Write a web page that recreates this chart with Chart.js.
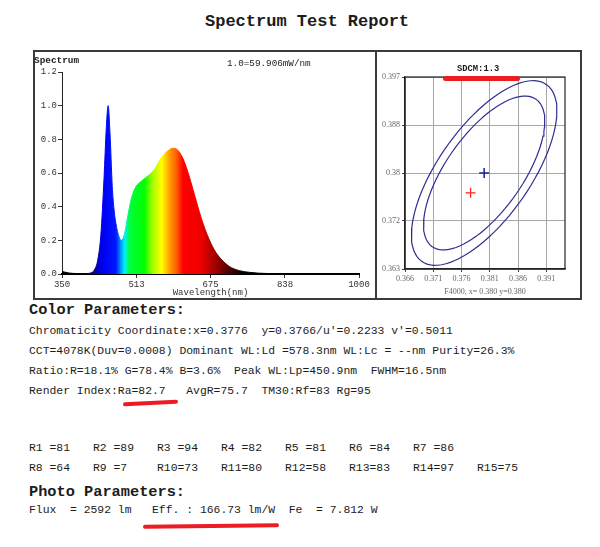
<!DOCTYPE html>
<html>
<head>
<meta charset="utf-8">
<title>Spectrum Test Report</title>
<script src="https://cdn.jsdelivr.net/npm/chart.js@4.4.0/dist/chart.umd.min.js"></script>
<style>
  html, body { margin: 0; padding: 0; background: #fff; }
  #page {
    position: relative; width: 600px; height: 547px; overflow: hidden;
    font-family: "Liberation Mono", "Courier New", monospace; color: #1c1c1c;
  }
  .t { position: absolute; white-space: pre; line-height: 1; }
  .b { font-weight: bold; }
  .frame {
    position: absolute; left: 33px; top: 50px; width: 549px; height: 250px;
    box-sizing: border-box; border: 2px solid #3a3a3a;
  }
  .divider { position: absolute; left: 375px; top: 50px; width: 2px; height: 250px; background: #3a3a3a; }
  canvas { position: absolute; }
  .mark { position: absolute; background: #ec1c24; border-radius: 3px; z-index: 5; }
</style>
</head>
<body>
<div id="page">
  <div class="frame"></div>
  <div class="divider"></div>
  <canvas id="spectrumChart" width="340" height="246" style="left:35px;top:52px;width:340px;height:246px"></canvas>
  <canvas id="cieChart" width="203" height="246" style="left:377px;top:52px;width:203px;height:246px"></canvas>
</div>

<script>
// ---- spectrum (relative power, 1.0 = 59.906 mW/nm) ----
const wavelengths = [350, 355, 365, 380, 400, 410, 416, 422, 428, 435, 442, 447, 451, 455, 460,
  464, 468, 475, 480, 486, 493, 502, 512, 523, 537, 552, 567, 581, 592, 603,
  614, 625, 640, 655, 672, 687, 702, 716, 738, 760, 780, 820, 900, 1000];
const relativePower = [0.015, 0.012, 0.006, 0.003, 0.002, 0.004, 0.01, 0.03, 0.08, 0.23, 0.57, 0.87, 1.0, 0.84, 0.52,
  0.38, 0.30, 0.22, 0.20, 0.23, 0.33, 0.45, 0.52, 0.55, 0.58, 0.62, 0.69, 0.73, 0.747, 0.737,
  0.69, 0.61, 0.47, 0.33, 0.206, 0.127, 0.078, 0.045, 0.02, 0.01, 0.005, 0.002, 0.001, 0.0];
const wavelengthTicks = [350, 513, 675, 838, 1000];
const powerTicks = [0, 0.2, 0.4, 0.6, 0.8, 1.0, 1.2];

// rainbow fill colours by wavelength
const rainbowNm = [350, 400, 415, 430, 440, 468, 478, 487, 497, 530, 548, 568, 585, 600, 615, 655, 685, 715, 745, 1000];
const rainbowColors = ['#000000', '#0c0020', '#14006e', '#0000c8', '#0000f4', '#0018ff', '#0090ff', '#00f0ff',
  '#00ff40', '#00ff00', '#a0ff00', '#ffff00', '#ffa000', '#ff6000', '#ff0000', '#ee0000',
  '#a00000', '#500000', '#000000', '#000000'];

// ---- chromaticity (CIE 1931 x,y) ----
const cieXTicks = [0.366, 0.371, 0.376, 0.381, 0.386, 0.391];
const cieYTicks = [0.3635, 0.37175, 0.38, 0.38825, 0.3965];
const cieYTickLabels = ['0.363', '0.372', '0.38', '0.388', '0.397'];
const targetPoint = [0.380, 0.380];      // F4000
const measuredPoint = [0.3776, 0.3766];
const ellipseSteps = [5, 6];
const ellipseA = 0.00313;   // one-step MacAdam ellipse for F4000
const ellipseB = 0.00134;
const ellipseAngle = 53.72;

// ---- report text ----
const colorLines = [
  "Chromaticity Coordinate:x=0.3776  y=0.3766/u'=0.2233 v'=0.5011",
  "CCT=4078K(Duv=0.0008) Dominant WL:Ld =578.3nm WL:Lc = --nm Purity=26.3%",
  "Ratio:R=18.1% G=78.4% B=3.6%  Peak WL:Lp=450.9nm  FWHM=16.5nm",
  "Render Index:Ra=82.7   AvgR=75.7  TM30:Rf=83 Rg=95"
];
const criNames = ['R1', 'R2', 'R3', 'R4', 'R5', 'R6', 'R7', 'R8', 'R9', 'R10', 'R11', 'R12', 'R13', 'R14', 'R15'];
const criValues = [81, 89, 94, 82, 81, 84, 86, 64, 7, 73, 80, 58, 83, 97, 75];
const photoLine = "Flux  = 2592 lm   Eff. : 166.73 lm/W  Fe  = 7.812 W";

const page = document.getElementById('page');

function addText(str, left, centerY, size, bold) {
  const d = document.createElement('div');
  d.className = 't' + (bold ? ' b' : '');
  d.textContent = str;
  d.style.left = left + 'px';
  d.style.top = (centerY - size / 2) + 'px';
  d.style.fontSize = size + 'px';
  page.appendChild(d);
  return d;
}

function addMark(left, top, width, height, rotate) {
  const d = document.createElement('div');
  d.className = 'mark';
  d.style.left = left + 'px';
  d.style.top = top + 'px';
  d.style.width = width + 'px';
  d.style.height = height + 'px';
  d.style.transform = 'rotate(' + rotate + 'deg)';
  page.appendChild(d);
}

addText('Spectrum Test Report', 205, 21, 17, true);
addText('Spectrum', 34, 61, 9.4, true);
addText('1.0=59.906mW/nm', 227, 64, 9.3, false);
addText('SDCM:1.3', 457, 69, 8.8, true);

addText('Color Parameters:', 29, 311, 15.3, true);
colorLines.forEach((line, i) => addText(line, 29, 332 + i * 20, 11.4, false));

criNames.forEach((name, i) => {
  const row = i < 7 ? 0 : 1;
  const col = i < 7 ? i : i - 7;
  const label = (name + '   ').slice(0, 3) + '=' + criValues[i];
  addText(label, 29 + col * 64, 449 + row * 20, 11.4, false);
});

addText('Photo Parameters:', 29, 493, 15.3, true);
addText(photoLine, 29, 511, 11.4, false);

// hand drawn red marks
addMark(443, 76, 77, 4.5, 0);
addMark(123, 401, 55, 3.5, -3);
addMark(143, 524, 136, 3.5, -0.6);

// ---- spectrum chart ----
function rainbowFill(context) {
  const chart = context.chart;
  if (!chart.chartArea) return '#0000ff';
  const xs = chart.scales.x;
  const x0 = xs.getPixelForValue(350);
  const x1 = xs.getPixelForValue(1000);
  const g = chart.ctx.createLinearGradient(x0, 0, x1, 0);
  rainbowNm.forEach((nm, i) => g.addColorStop((nm - 350) / 650, rainbowColors[i]));
  return g;
}

const monoTick = { family: 'Liberation Mono', size: 9 };

new Chart(document.getElementById('spectrumChart'), {
  type: 'line',
  data: {
    datasets: [{
      data: wavelengths.map((nm, i) => ({ x: nm, y: relativePower[i] })),
      fill: 'origin',
      backgroundColor: rainbowFill,
      borderColor: rainbowFill,
      borderWidth: 1,
      pointRadius: 0,
      cubicInterpolationMode: 'monotone'
    }]
  },
  options: {
    responsive: false,
    animation: false,
    devicePixelRatio: 1,
    layout: { padding: { top: 20, right: 16, left: 0, bottom: 0 } },
    plugins: { legend: { display: false }, tooltip: { enabled: false } },
    scales: {
      x: {
        type: 'linear',
        min: 350,
        max: 1000,
        afterBuildTicks: (scale) => { scale.ticks = wavelengthTicks.map((v) => ({ value: v })); },
        afterFit: (scale) => { scale.height = 24; },
        grid: { drawOnChartArea: false, tickLength: 4, color: '#333' },
        border: { color: '#000', width: 2 },
        ticks: { font: monoTick, color: '#333', padding: 1, maxRotation: 0, autoSkip: false, callback: (v) => String(v) },
        title: {
          display: true,
          text: 'Wavelength(nm)',
          font: monoTick,
          color: '#333',
          padding: { top: 0, bottom: 0 }
        }
      },
      y: {
        min: 0,
        max: 1.2,
        afterBuildTicks: (scale) => { scale.ticks = powerTicks.map((v) => ({ value: v })); },
        afterFit: (scale) => { scale.width = 27; },
        grid: { drawOnChartArea: false, tickLength: 4, color: '#333' },
        border: { color: '#222', width: 1 },
        ticks: { font: monoTick, color: '#333', padding: 1, callback: (v) => Number(v).toFixed(1) }
      }
    }
  }
});

// ---- chromaticity chart ----
function ellipsePoints(steps) {
  const t = ellipseAngle * Math.PI / 180;
  const pts = [];
  for (let k = 0; k <= 90; k++) {
    const s = (k / 90) * Math.PI * 2;
    const ax = ellipseA * steps * Math.cos(s);
    const by = ellipseB * steps * Math.sin(s);
    pts.push({
      x: targetPoint[0] + ax * Math.cos(t) - by * Math.sin(t),
      y: targetPoint[1] + ax * Math.sin(t) + by * Math.cos(t)
    });
  }
  return pts;
}

const plotBorder = {
  id: 'plotBorder',
  afterDraw(chart) {
    const { ctx, chartArea: a } = chart;
    ctx.save();
    ctx.strokeStyle = '#222';
    ctx.lineWidth = 1.2;
    ctx.strokeRect(a.left, a.top, a.width, a.height);
    ctx.restore();
  }
};

const serifTick = { family: 'Liberation Serif', size: 8 };

new Chart(document.getElementById('cieChart'), {
  type: 'scatter',
  data: {
    datasets: [
      ...ellipseSteps.map((n) => ({
        data: ellipsePoints(n),
        showLine: true,
        borderColor: '#2e2e92',
        borderWidth: 1.2,
        pointRadius: 0,
        fill: false
      })),
      {
        data: [{ x: targetPoint[0], y: targetPoint[1] }],
        pointStyle: 'cross',
        pointRadius: 5,
        borderColor: '#1d1d99',
        borderWidth: 1.5
      },
      {
        data: [{ x: measuredPoint[0], y: measuredPoint[1] }],
        pointStyle: 'cross',
        pointRadius: 5,
        borderColor: '#ff2020',
        borderWidth: 1.2
      }
    ]
  },
  options: {
    responsive: false,
    animation: false,
    devicePixelRatio: 1,
    layout: { padding: { top: 25, right: 15, left: 0, bottom: 0 } },
    plugins: { legend: { display: false }, tooltip: { enabled: false } },
    scales: {
      x: {
        min: 0.366,
        max: 0.3943,
        afterBuildTicks: (scale) => { scale.ticks = cieXTicks.map((v) => ({ value: v })); },
        afterFit: (scale) => { scale.height = 29; },
        grid: { color: '#a8a8a8', tickLength: 3, tickColor: '#444' },
        border: { color: '#222', width: 1.2 },
        ticks: { font: serifTick, color: '#666', padding: 2, maxRotation: 0, autoSkip: false, callback: (v) => Number(v).toFixed(3) },
        title: {
          display: true,
          text: 'F4000, x= 0.380 y=0.380',
          font: serifTick,
          color: '#666',
          padding: { top: 0, bottom: 1 }
        }
      },
      y: {
        min: 0.3635,
        max: 0.3965,
        afterBuildTicks: (scale) => { scale.ticks = cieYTicks.map((v) => ({ value: v })); },
        afterFit: (scale) => { scale.width = 28; },
        grid: { color: '#a8a8a8', tickLength: 3, tickColor: '#444' },
        border: { color: '#222', width: 1.2 },
        ticks: { font: serifTick, color: '#666', padding: 2, callback: (v, i) => cieYTickLabels[i] }
      }
    }
  },
  plugins: [plotBorder]
});
</script>
</body>
</html>
